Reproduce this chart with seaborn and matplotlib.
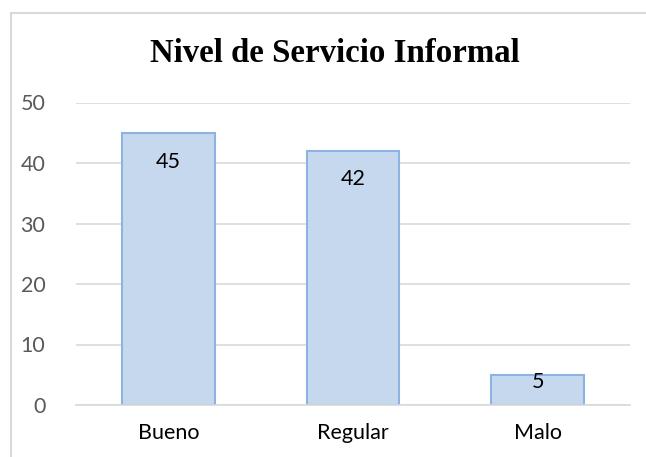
import matplotlib
matplotlib.use("Agg")
import matplotlib.pyplot as plt
import seaborn as sns
import pandas as pd
from matplotlib.lines import Line2D

# -------------------------
# Data
# -------------------------
categories = ["Bueno", "Regular", "Malo"]
values = [45, 42, 5]
title = "Nivel de Servicio Informal"

# label offsets below the bar top (points), as placed in the original
label_offsets = [-21, -20, -5]

df = pd.DataFrame({"nivel": categories, "n": values})

sns.set_theme(style="white")
plt.rcParams["font.family"] = ["Lato", "DejaVu Sans"]

fig = plt.figure(figsize=(6.46, 4.57), dpi=100)
ax = fig.add_axes([76 / 646, 52 / 457, 554 / 646, 302.5 / 457])

sns.barplot(data=df, x="nivel", y="n", ax=ax, color="#c6d8ee",
            edgecolor="#8db3e2", linewidth=1.5, width=0.5, saturation=1)

ax.set_ylim(0, 50)
ax.set_yticks([0, 10, 20, 30, 40, 50])
ax.yaxis.grid(True, color="#d9d9d9", linewidth=1.2)
ax.set_axisbelow(True)
for s in ["left", "right", "top"]:
    ax.spines[s].set_visible(False)
ax.spines["bottom"].set_color("#d9d9d9")
ax.spines["bottom"].set_linewidth(1.2)
ax.set_xlabel("")
ax.set_ylabel("")
ax.tick_params(axis="y", colors="#595959", labelsize=15.5, length=0, pad=22)
ax.tick_params(axis="x", colors="#000000", labelsize=15.5, length=0, pad=13)

for i, (v, off) in enumerate(zip(values, label_offsets)):
    ax.annotate(str(v), (i, v), xytext=(0, off), textcoords="offset points",
                ha="center", va="center", fontsize=15.5, color="#000000")

# chart area border: only left and top edges are inside the picture
x0 = 11 / 646
y0 = 1 - 13 / 457
fig.add_artist(Line2D([x0, x0], [0, y0], transform=fig.transFigure,
                      color="#d9d9d9", linewidth=1.5))
fig.add_artist(Line2D([x0, 1], [y0, y0], transform=fig.transFigure,
                      color="#d9d9d9", linewidth=1.5))

fig.text(334.5 / 646, 1 - 53 / 457, title, ha="center", va="center",
         fontsize=23.7, fontweight="bold", color="black",
         family=["Liberation Serif", "DejaVu Serif"])

fig.savefig("out.png", dpi=100)
